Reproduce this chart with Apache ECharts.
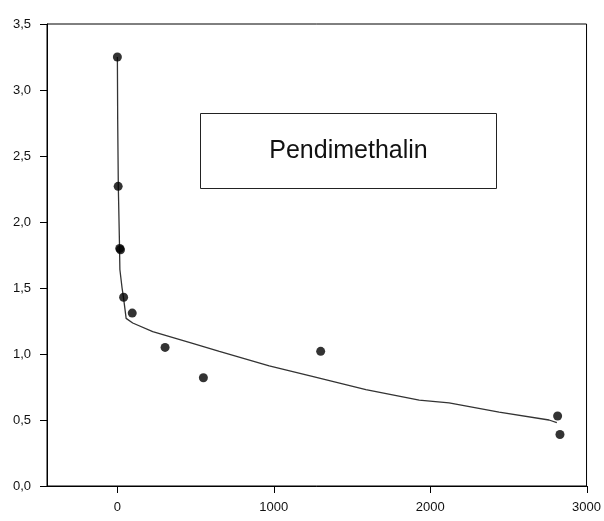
<!DOCTYPE html>
<html>
<head>
<meta charset="utf-8">
<script src="https://cdn.jsdelivr.net/npm/echarts@6/dist/echarts.min.js"></script>
<style>
  html, body { margin: 0; padding: 0; background: #fff; }
  #chart { width: 604px; height: 521px; }
</style>
</head>
<body>
<div id="chart"></div>
<script>
// Measured residues (time, concentration)
const obsTime = [0, 5, 15, 20, 40, 95, 305, 550, 1300, 2815, 2830];
const obsConc = [3.25, 2.27, 1.80, 1.79, 1.43, 1.31, 1.05, 0.82, 1.02, 0.53, 0.39];

// Fitted dissipation curve, sampled along its path
const fitTime = [0, 2, 6, 13, 16, 30, 40, 56, 98, 226, 481, 652, 971, 1246, 1589, 1930, 2121, 2441, 2760, 2810];
const fitConc = [3.25, 2.77, 2.27, 1.86, 1.64, 1.50, 1.42, 1.27, 1.235, 1.17, 1.08, 1.02, 0.91, 0.83, 0.73, 0.65, 0.63, 0.56, 0.50, 0.48];

const xTicks = [0, 1000, 2000, 3000];
const yTicks = [0, 0.5, 1.0, 1.5, 2.0, 2.5, 3.0, 3.5];
const xMin = -450, xMax = 3000;
const boxLabel = 'Pendimethalin';

const chart = echarts.init(document.getElementById('chart'), null, { renderer: 'canvas' });

const axisFont = { fontFamily: 'Liberation Sans, Arial, sans-serif', fontSize: 13, color: '#111' };
const TICK = 7;

chart.setOption({
  animation: false,
  backgroundColor: '#fff',
  grid: { left: 47, right: 17, top: 24, bottom: 35, show: true, borderColor: '#000', borderWidth: 1 },
  xAxis: {
    type: 'value',
    min: xMin,
    max: xMax,
    splitLine: { show: false },
    axisLine: { onZero: false, lineStyle: { color: '#000', width: 1 } },
    axisTick: { show: false },
    axisLabel: Object.assign({ margin: 15, customValues: xTicks,
      formatter: v => String(v) }, axisFont)
  },
  yAxis: {
    type: 'value',
    min: 0,
    max: 3.5,
    interval: 0.5,
    splitLine: { show: false },
    axisLine: { show: true, onZero: false, lineStyle: { color: '#000', width: 1 } },
    axisTick: { show: false },
    axisLabel: Object.assign({ margin: 16,
      formatter: v => v.toFixed(1).replace('.', ',') }, axisFont)
  },
  series: [
    {
      type: 'line',
      data: fitTime.map((t, i) => [t, fitConc[i]]),
      showSymbol: false,
      symbol: 'none',
      lineStyle: { color: '#333', width: 1.3 },
      z: 2
    },
    {
      type: 'scatter',
      data: obsTime.map((t, i) => [t, obsConc[i]]),
      symbol: 'circle',
      symbolSize: 9,
      itemStyle: { color: '#000' },
      z: 3
    }
  ]
});

// Tick marks outside the frame, placed through the axis scales
const ticks = [];
xTicks.forEach(v => {
  const p = chart.convertToPixel({ gridIndex: 0 }, [v, 0]);
  const x = Math.round(p[0]) + 0.5;
  ticks.push({ type: 'line', silent: true, z: 100,
    shape: { x1: x, y1: p[1], x2: x, y2: p[1] + TICK },
    style: { stroke: '#000', lineWidth: 1 } });
});
yTicks.forEach(v => {
  const p = chart.convertToPixel({ gridIndex: 0 }, [xMin, v]);
  const y = Math.round(p[1]) + 0.5;
  ticks.push({ type: 'line', silent: true, z: 100,
    shape: { x1: p[0] - TICK, y1: y, x2: p[0], y2: y },
    style: { stroke: '#000', lineWidth: 1 } });
});

chart.setOption({
  graphic: ticks.concat([
    {
      type: 'group',
      left: 200,
      top: 113,
      children: [
        { type: 'rect', shape: { x: 0, y: 0, width: 296, height: 75 },
          style: { fill: '#fff', stroke: '#222', lineWidth: 1 } },
        { type: 'text', x: 148, y: 38,
          style: { text: boxLabel, fill: '#111', font: '25px "Liberation Sans", Arial, sans-serif',
            textAlign: 'center', textVerticalAlign: 'middle' } }
      ]
    }
  ])
});
</script>
</body>
</html>
